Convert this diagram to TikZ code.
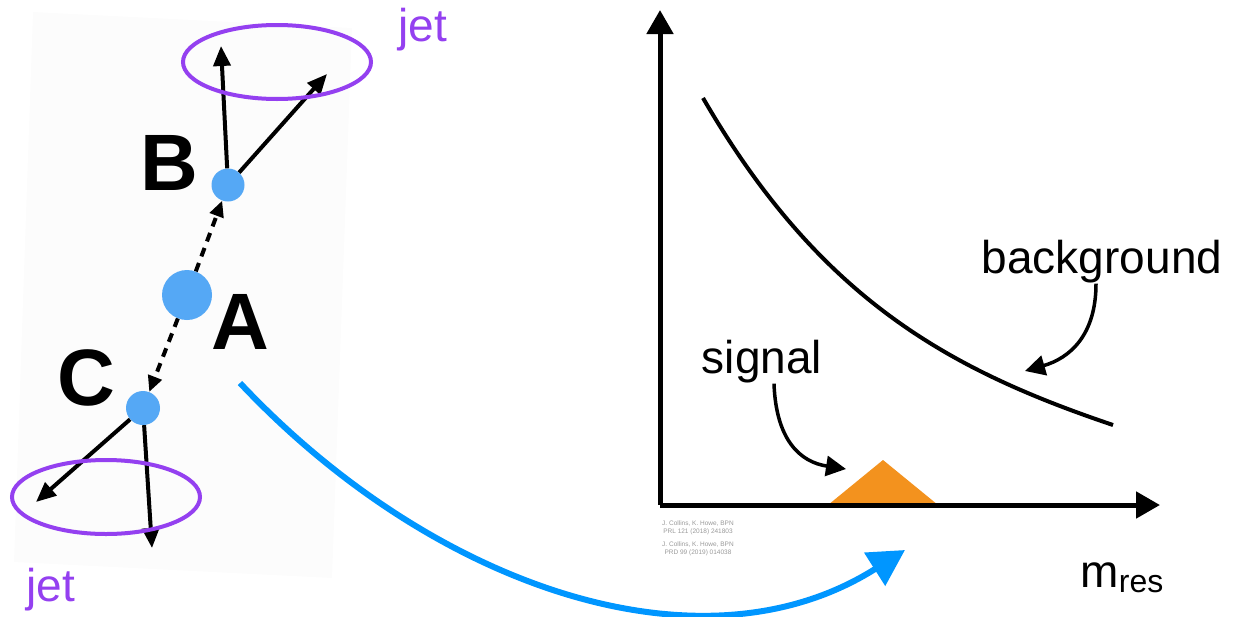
\documentclass[tikz,border=0pt]{standalone}
\usepackage{fontspec}
\setmainfont{Liberation Sans}
\usepackage{tikz}
\usetikzlibrary{arrows.meta,positioning,calc,shapes.geometric}
\definecolor{dotblue}{RGB}{85,168,245}
\definecolor{flowblue}{RGB}{0,150,255}
\definecolor{jetpurple}{RGB}{148,64,240}
\definecolor{sigorange}{RGB}{243,146,30}
\tikzset{
  dot/.style={circle,fill=dotblue,inner sep=0pt},
  letter/.style={font=\fontsize{80}{80}\selectfont\bfseries,inner sep=0pt},
  word/.style={font=\fontsize{46}{46}\selectfont,inner sep=0pt},
  jetring/.style={draw=jetpurple,line width=4pt,ellipse,minimum width=188pt,minimum height=74pt},
  jetarr/.style={-{Triangle[length=20pt,width=17pt]},line width=4pt},
  decay/.style={-{Triangle[length=16pt,width=14pt]},line width=4pt,dash pattern=on 9pt off 7pt},
  axis/.style={-{Triangle[length=24pt,width=26pt]},line width=5pt},
  note/.style={-{Triangle[length=20pt,width=20pt]},line width=3.5pt}
}
\begin{document}
\begin{tikzpicture}[x=1pt,y=-1pt]
\useasboundingbox (0,0) rectangle (1233,616);
% tilted backdrop of the decay sketch
\fill[black!1] (33,12) -- (352,28) -- (332,578) -- (14,562) -- cycle;
% decay chain
\node[dot,minimum size=50pt] (A) at (187,295) {};
\node[dot,minimum size=33pt] (B) at (228,185) {};
\node[dot,minimum size=34pt] (C) at (143,408) {};
\node[letter] (Alab) at (240,322) {A};
\node[letter] (Blab) at (169,163) {B};
\node[letter] (Clab) at (86,378) {C};
\draw[decay] (A) -- (B);
\draw[decay] (A) -- (C);
% jets
\coordinate (b1) at (221,46);
\coordinate (b2) at (327,74);
\coordinate (c1) at (36,502);
\coordinate (c2) at (152,548);
\draw[jetarr] (B) -- (b1);
\draw[jetarr] (B) -- (b2);
\draw[jetarr] (C) -- (c1);
\draw[jetarr] (C) -- (c2);
\node[jetring] (jetB) at (277,62) {};
\node[jetring] (jetC) at (106,497) {};
\node[word,text=jetpurple] (jetBlab) at (423,30) {jet};
\node[word,text=jetpurple] (jetClab) at (51,590) {jet};
% mass spectrum
\coordinate (O) at (660,505);
\coordinate (ytop) at (660,10);
\coordinate (xend) at (1160,505);
\fill[sigorange] (828,505) -- (883,460) -- (938,505) -- cycle;
\draw[axis] (O) -- (ytop);
\draw[axis] (O) -- (xend);
\draw[line width=4pt] (703,98) .. controls (820,300) and (950,370) .. (1113,425);
\node[word] (bkg) at (1102,262) {background};
\node[word] (sig) at (762,362) {signal};
\coordinate (bkgtip) at (1025,371);
\coordinate (sigtip) at (846,469);
\draw[note] (bkg.south -| 1096,0) .. controls (1096,335) and (1070,358) .. (bkgtip);
\draw[note] (sig.south -| 774,0) .. controls (776,440) and (800,462) .. (sigtip);
\node[word] (mres) at (1122,578) {m\raisebox{-5pt}{\fontsize{32}{32}\selectfont res}};
\node[font=\fontsize{6.5}{8}\selectfont,text=black!40,align=center,inner sep=0pt] (cite) at (698,538)
  {J. Collins, K. Howe, BPN\\PRL 121 (2018) 241803\\[5pt]J. Collins, K. Howe, BPN\\PRD 99 (2019) 014038};
% arrow from the sketch to the spectrum
\coordinate (flowstart) at (240,383);
\coordinate (flowend) at (905,550);
\draw[flowblue,line width=6pt,-{Triangle[length=36pt,width=38pt]}] (flowstart) .. controls (430,585) and (700,680) .. (flowend);
\end{tikzpicture}
\end{document}
